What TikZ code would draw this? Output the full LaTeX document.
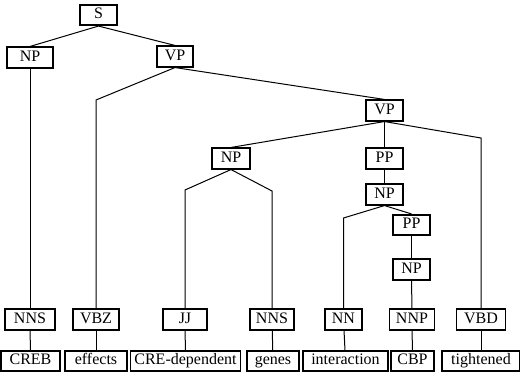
\documentclass[tikz,border=0pt]{standalone}
\usepackage{fontspec}
\setmainfont{Liberation Serif}
\usepackage{tikz}
\usetikzlibrary{positioning,calc}

\begin{document}
\begin{tikzpicture}[x=1pt,y=-1pt,
    tag/.style={draw, line width=1.6pt, minimum width=37pt, inner xsep=4pt,
      inner ysep=3pt, text height=11pt, text depth=3.5pt,
      font=\fontsize{16}{18}\selectfont},
    br/.style={line width=1pt}]
  \useasboundingbox (0,0) rectangle (520,375);

  % phrase nodes
  \node[tag] (s) at (98.5,15) {S};
  \node[tag, minimum width=46pt] (np1) at (30,57.5) {NP};
  \node[tag, minimum width=36pt] (vp1) at (175,56.5) {VP};
  \node[tag] (vp2) at (384.5,110.5) {VP};
  \node[tag, minimum width=38pt] (np2) at (231,158.5) {NP};
  \node[tag] (pp1) at (384.5,158.5) {PP};
  \node[tag] (np3) at (384.5,194.5) {NP};
  \node[tag] (pp2) at (411.5,225) {PP};
  \node[tag] (np4) at (411.5,269.5) {NP};

  % part of speech
  \node[tag, minimum width=50pt] (nns1) at (30,319.5) {NNS};
  \node[tag, minimum width=46pt] (vbz) at (96,319.5) {VBZ};
  \node[tag, minimum width=44pt] (jj) at (185,319.5) {JJ};
  \node[tag, minimum width=44pt] (nns2) at (272,319.5) {NNS};
  \node[tag] (nn) at (343.5,319.5) {NN};
  \node[tag, minimum width=45pt] (nnp) at (412,319.5) {NNP};
  \node[tag, minimum width=49pt] (vbd) at (481,319.5) {VBD};

  % words
  \node[tag, minimum width=59pt] (w1) at (30.5,361) {CREB};
  \node[tag, minimum width=62pt] (w2) at (96,361) {effects};
  \node[tag, minimum width=109pt] (w3) at (185.5,361) {CRE-dependent};
  \node[tag, minimum width=52pt] (w4) at (273,361) {genes};
  \node[tag, minimum width=85pt] (w5) at (345.5,361) {interaction};
  \node[tag, minimum width=43pt] (w6) at (412.5,361) {CBP};
  \node[tag, minimum width=78pt] (w7) at (481,361) {tightened};

  % branches
  \draw[br] (s.south) -- (np1.north);
  \draw[br] (s.south) -- (vp1.north);
  \draw[br] (np1.south) -- (nns1.north);
  \draw[br] (vp1.south) -- (vbz.north |- 0,100) -- (vbz.north);
  \draw[br] (vp1.south) -- (vp2.north);
  \draw[br] (vp2.south) -- (np2.north);
  \draw[br] (vp2.south) -- (pp1.north);
  \draw[br] (vp2.south) -- (vbd.north |- 0,138) -- (vbd.north);
  \draw[br] (np2.south) -- (jj.north |- 0,190) -- (jj.north);
  \draw[br] (np2.south) -- (nns2.north |- 0,191) -- (nns2.north);
  \draw[br] (pp1.south) -- (np3.north);
  \draw[br] (np3.south) -- (nn.north |- 0,218) -- (nn.north);
  \draw[br] (np3.south) -- (pp2.north);
  \draw[br] (pp2.south) -- (np4.north);
  \draw[br] (np4.south) -- (nnp.north);

  % leaves
  \draw[br] (nns1) -- (w1);
  \draw[br] (vbz) -- (w2);
  \draw[br] (jj) -- (w3);
  \draw[br] (nns2) -- (w4);
  \draw[br] (nn) -- (w5);
  \draw[br] (nnp) -- (w6);
  \draw[br] (vbd) -- (w7);
\end{tikzpicture}
\end{document}
